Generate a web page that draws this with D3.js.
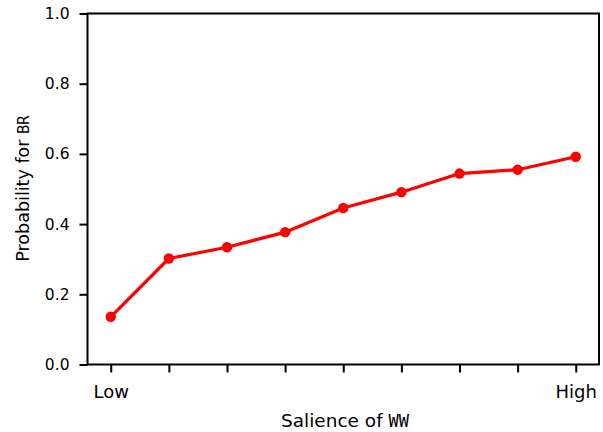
<!DOCTYPE html>
<html>
<head>
<meta charset="utf-8">
<script src="https://cdn.jsdelivr.net/npm/d3@7"></script>
<style>
  html, body { margin: 0; padding: 0; background: #fff; }
  svg { display: block; }
  .tick text { font-family: "DejaVu Sans", sans-serif; }
</style>
</head>
<body>
<svg id="chart" width="603" height="432"></svg>
<script>
// Salience levels on the x axis (only the ends are labelled)
const levels = [0, 1, 2, 3, 4, 5, 6, 7, 8];
const levelLabels = ["Low", "", "", "", "", "", "", "", "High"];
// Probability for BR at each level
const probability = [0.136, 0.302, 0.334, 0.377, 0.446, 0.491, 0.544, 0.555, 0.592];
const yTicks = [0.0, 0.2, 0.4, 0.6, 0.8, 1.0];

const svg = d3.select("#chart");
const plotLeft = 87.5, plotRight = 599, plotTop = 13.5, plotBottom = 364.5;

const x = d3.scaleLinear().domain([-0.4, 8.4]).range([plotLeft, plotRight]);
const y = d3.scaleLinear().domain([0, 1]).range([plotBottom, plotTop]);

// frame
svg.append("rect")
  .attr("x", plotLeft).attr("y", plotTop)
  .attr("width", plotRight - plotLeft).attr("height", plotBottom - plotTop)
  .attr("fill", "none").attr("stroke", "#000").attr("stroke-width", 2);

// y axis
const yAxis = svg.append("g")
  .attr("transform", `translate(${plotLeft},0)`)
  .call(d3.axisLeft(y).tickValues(yTicks).tickFormat(d3.format(".1f")).tickSize(8).tickPadding(10));
yAxis.select(".domain").remove();
yAxis.selectAll(".tick line").attr("stroke-width", 2);
yAxis.selectAll(".tick text").attr("font-size", 15.5).attr("fill", "#000");

// x axis
const xAxis = svg.append("g")
  .attr("transform", `translate(0,${plotBottom})`)
  .call(d3.axisBottom(x).tickValues(levels).tickFormat((d, i) => levelLabels[i]).tickSize(8).tickPadding(13));
xAxis.select(".domain").remove();
xAxis.selectAll(".tick line").attr("stroke-width", 2);
xAxis.selectAll(".tick text").attr("font-size", 18).attr("fill", "#000");

// axis titles
const yt = svg.append("text")
  .attr("transform", `translate(29,188.5) rotate(-90)`)
  .attr("text-anchor", "middle")
  .attr("font-family", "DejaVu Sans, sans-serif")
  .attr("font-size", 17.5);
yt.append("tspan").text("Probability for ");
yt.append("tspan").attr("font-family", "DejaVu Sans Mono, monospace").attr("font-size", 15.5).text("BR");

const xt = svg.append("text")
  .attr("x", 345).attr("y", 426.5)
  .attr("text-anchor", "middle")
  .attr("font-family", "DejaVu Sans, sans-serif")
  .attr("font-size", 18.5);
xt.append("tspan").text("Salience of ");
xt.append("tspan").attr("font-family", "DejaVu Sans Mono, monospace").attr("font-size", 17).text("WW");

// line and markers
const line = d3.line().x((d, i) => x(levels[i])).y(d => y(d));
svg.append("path")
  .datum(probability)
  .attr("d", line)
  .attr("fill", "none")
  .attr("stroke", "#ff0000")
  .attr("stroke-width", 3.2)
  .attr("stroke-linejoin", "round");

svg.selectAll("circle.pt")
  .data(probability)
  .join("circle")
  .attr("class", "pt")
  .attr("cx", (d, i) => x(levels[i]))
  .attr("cy", d => y(d))
  .attr("r", 5.2)
  .attr("fill", "#ff0000");
</script>
</body>
</html>
